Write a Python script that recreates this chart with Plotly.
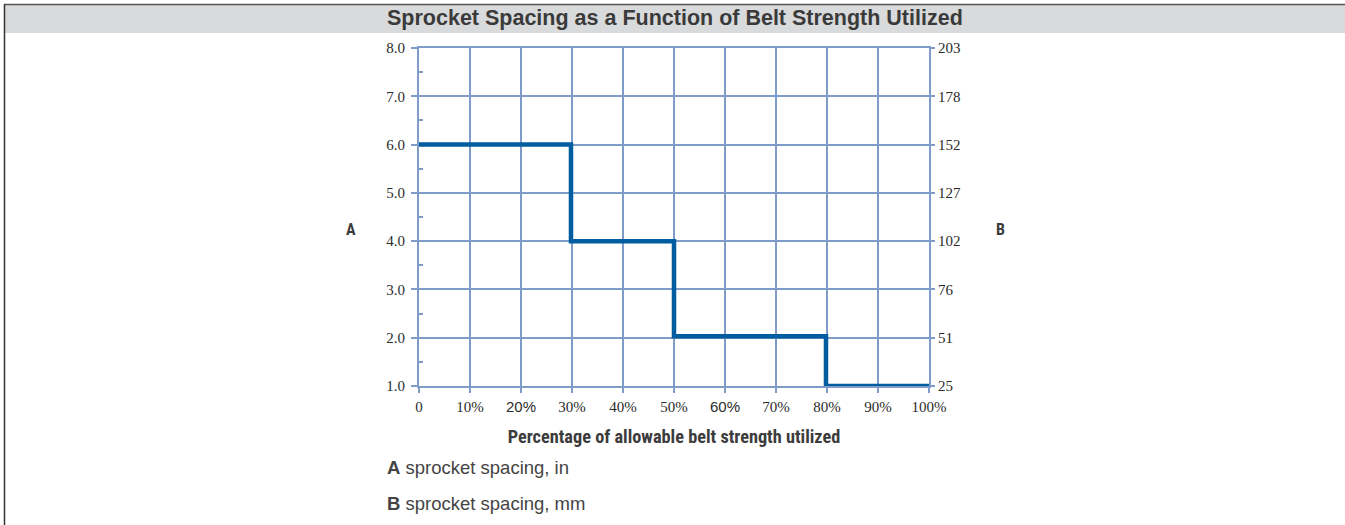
import plotly.graph_objects as go

# ---- data ----
pct_breaks = [0, 29.8, 50, 79.8, 100]          # % of allowable belt strength
spacing_in = [6.0, 4.0, 2.03, 1.0, 1.0]        # sprocket spacing (in), step ('hv')
x_tick_vals = [0, 10, 20, 30, 40, 50, 60, 70, 80, 90, 100]
x_tick_labels = ["0", "10%", "20%", "30%", "40%", "50%", "60%", "70%", "80%", "90%", "100%"]
sans_x_labels = ["20%", "60%"]                 # these two are set in a sans face
y_in_vals = [1, 2, 3, 4, 5, 6, 7, 8]
y_mm_labels = ["25", "51", "76", "102", "127", "152", "178", "203"]

W, H = 1345, 525
L, R, T, B = 419, 929, 48, 386  # plot area in pixels

def px(xp):
    return (xp - L) / (R - L)

def py(yp):
    return 1 - (yp - T) / (B - T)

GRID = "#7f9cc9"
LINE = "#005ea0"
TXT = "#2b2b2b"
SERIF = "Liberation Serif, Times New Roman, serif"
SANS = "Liberation Sans, Arial, sans-serif"
NARROW = "Liberation Sans Narrow, Arial Narrow, Roboto Condensed, Liberation Sans, sans-serif"

ticktext = [
    f"<span style='font-family:{SANS}'>{t}</span>" if t in sans_x_labels else t
    for t in x_tick_labels
]

fig = go.Figure()
fig.add_trace(go.Scatter(
    x=pct_breaks, y=spacing_in, mode="lines", line=dict(shape="hv", color=LINE, width=4.5),
    cliponaxis=False, showlegend=False, hoverinfo="skip",
))
fig.add_trace(go.Scatter(
    x=pct_breaks, y=spacing_in, yaxis="y2", mode="lines", line=dict(width=0),
    opacity=0, showlegend=False, hoverinfo="skip",
))

fig.update_layout(
    width=W, height=H, autosize=False,
    margin=dict(l=L, r=W - R, t=T, b=H - B, pad=0),
    paper_bgcolor="white", plot_bgcolor="white",
    showlegend=False,
    xaxis=dict(
        range=[0, 100], tickmode="array", tickvals=x_tick_vals, ticktext=ticktext,
        showgrid=True, gridcolor=GRID, gridwidth=2,
        showline=True, linecolor=GRID, linewidth=2, mirror=True,
        ticks="outside", ticklen=5, tickcolor=GRID, tickwidth=2,
        tickfont=dict(family=SERIF, size=15, color=TXT), ticklabelstandoff=1,
        zeroline=False, layer="below traces", fixedrange=True,
        title=dict(text="<b>Percentage of allowable belt strength utilized</b>",
                   font=dict(family=NARROW, size=18.3, color="#3c3c3c"), standoff=16),
    ),
    yaxis=dict(
        range=[1, 8], tickmode="array", tickvals=y_in_vals,
        ticktext=[f"{v:.1f}" for v in y_in_vals],
        showgrid=True, gridcolor=GRID, gridwidth=2,
        showline=True, linecolor=GRID, linewidth=2,
        ticks="outside", ticklen=6, tickcolor=GRID, tickwidth=2,
        minor=dict(tickmode="linear", tick0=1.5, dtick=1, ticks="inside", ticklen=4,
                   tickcolor=GRID, tickwidth=2, showgrid=False),
        tickfont=dict(family=SERIF, size=15, color=TXT), ticklabelstandoff=3,
        zeroline=False, layer="below traces", fixedrange=True,
    ),
    yaxis2=dict(
        range=[1, 8], overlaying="y", side="right", tickmode="array",
        tickvals=y_in_vals, ticktext=y_mm_labels,
        showgrid=False, showline=True, linecolor=GRID, linewidth=2,
        ticks="outside", ticklen=4, tickcolor=GRID, tickwidth=2,
        tickfont=dict(family=SERIF, size=15, color=TXT),
        zeroline=False, layer="below traces", fixedrange=True,
    ),
)

# frame: title bar, top and left border
fig.add_shape(type="rect", xref="paper", yref="paper",
              x0=px(5), x1=px(W + 2), y0=py(5), y1=py(33),
              fillcolor="#d9dadc", line=dict(width=0), layer="below")
fig.add_shape(type="line", xref="paper", yref="paper",
              x0=px(4), x1=px(W + 2), y0=py(4.5), y1=py(4.5),
              line=dict(color="#555555", width=1.5))
fig.add_shape(type="line", xref="paper", yref="paper",
              x0=px(4.5), x1=px(4.5), y0=py(4), y1=py(H + 2),
              line=dict(color="#333333", width=1.5))

fig.add_annotation(text="<b>Sprocket Spacing as a Function of Belt Strength Utilized</b>",
                   xref="paper", yref="paper", x=px(675), y=py(18),
                   showarrow=False, xanchor="center", yanchor="middle",
                   font=dict(family=SANS, size=21.5, color="#3a3a3a"))
fig.add_annotation(text="<b>A</b>", xref="paper", yref="paper", x=px(351), y=py(229),
                   showarrow=False, xanchor="center", yanchor="middle",
                   font=dict(family=NARROW, size=16, color="#3c3c3c"))
fig.add_annotation(text="<b>B</b>", xref="paper", yref="paper", x=px(1000), y=py(229),
                   showarrow=False, xanchor="center", yanchor="middle",
                   font=dict(family=NARROW, size=16, color="#3c3c3c"))
fig.add_annotation(text="<b>A</b> sprocket spacing, in", xref="paper", yref="paper",
                   x=px(385), y=py(467), showarrow=False, xanchor="left", yanchor="middle",
                   font=dict(family=SANS, size=18.5, color="#444444"))
fig.add_annotation(text="<b>B</b> sprocket spacing, mm", xref="paper", yref="paper",
                   x=px(385), y=py(503), showarrow=False, xanchor="left", yanchor="middle",
                   font=dict(family=SANS, size=18.5, color="#444444"))

fig.write_html("out.html", config={"displayModeBar": False},
               post_script="document.body.style.margin='0';document.body.style.overflow='hidden';")
